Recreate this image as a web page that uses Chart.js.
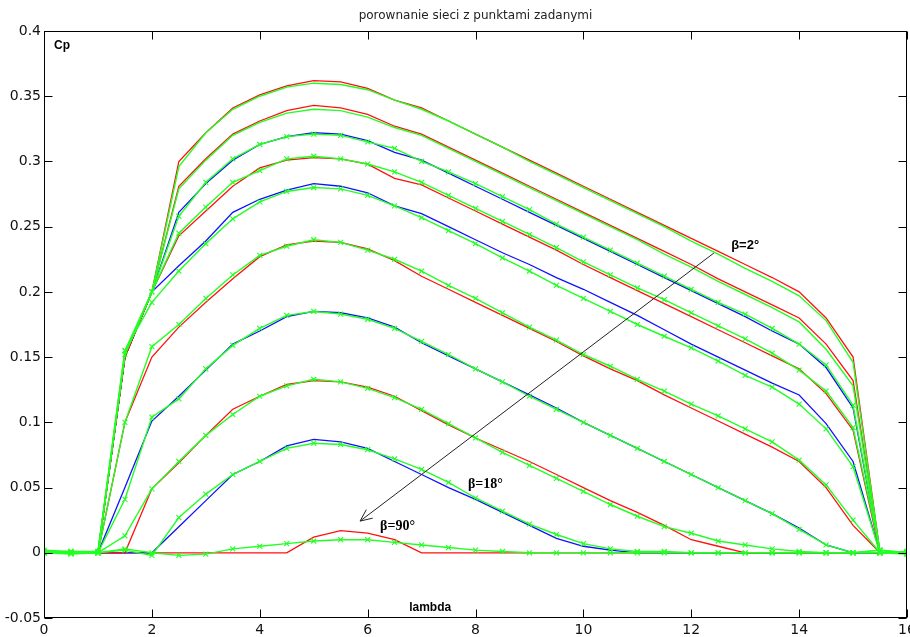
<!DOCTYPE html>
<html>
<head>
<meta charset="utf-8">
<script src="https://cdn.jsdelivr.net/npm/chart.js@4.4.1/dist/chart.umd.min.js"></script>
<style>
html,body{margin:0;padding:0;background:#fff;}
canvas{display:block;}
</style>
</head>
<body>
<canvas id="c" width="910" height="637"></canvas>
<script>
// ---- data ----
const lambdaValues = [0,0.5,1,1.5,2,2.5,3,3.5,4,4.5,5,5.5,6,6.5,7,7.5,8,8.5,9,9.5,10,10.5,11,11.5,12,12.5,13,13.5,14,14.5,15,15.5,16];
const xTickValues = [0,2,4,6,8,10,12,14,16];
const xTickLabels = ['0','2','4','6','8','10','12','14','16'];
const yTickValues = [-0.05,0,0.05,0.1,0.15,0.2,0.25,0.3,0.35,0.4];
const yTickLabels = ['-0.05','0','0.05','0.1','0.15','0.2','0.25','0.3','0.35','0.4'];
const titleText = 'porownanie sieci z punktami zadanymi';
const yAxisText = 'Cp';
const xAxisText = 'lambda';
const betaLabels = ['β=2°','β=18°','β=90°'];

// target curves (zadane)
const ref1 = [0,0,0,0.15,0.2,0.30,0.322,0.341,0.351,0.358,0.362,0.361,0.356,0.347,0.341,0.331,0.321,0.311,0.301,0.291,0.281,0.271,0.261,0.251,0.241,0.231,0.221,0.211,0.200,0.180,0.150,0,0];
const ref2 = [0,0,0,0.15,0.2,0.281,0.302,0.321,0.331,0.339,0.343,0.341,0.336,0.327,0.321,0.311,0.301,0.291,0.281,0.271,0.261,0.251,0.241,0.231,0.221,0.210,0.200,0.190,0.180,0.160,0.132,0,0];
const ref3 = [0,0,0,0.15,0.2,0.261,0.283,0.301,0.313,0.319,0.322,0.321,0.316,0.307,0.301,0.291,0.281,0.271,0.261,0.251,0.241,0.231,0.221,0.211,0.201,0.191,0.181,0.170,0.160,0.142,0.111,0,0];
const ref4 = [0,0,0,0.15,0.2,0.243,0.262,0.281,0.295,0.301,0.303,0.302,0.298,0.287,0.282,0.272,0.262,0.252,0.242,0.232,0.221,0.211,0.201,0.191,0.181,0.171,0.161,0.151,0.141,0.122,0.094,0,0];
const ref5 = [0,0,0,0.15,0.2,0.220,0.239,0.261,0.271,0.278,0.283,0.281,0.276,0.266,0.260,0.250,0.240,0.230,0.221,0.211,0.202,0.192,0.182,0.171,0.160,0.150,0.140,0.130,0.121,0.099,0.070,0,0];
const ref6 = [0,0,0,0.100,0.150,0.173,0.192,0.210,0.227,0.236,0.239,0.238,0.233,0.224,0.212,0.202,0.192,0.182,0.172,0.162,0.151,0.141,0.132,0.121,0.111,0.101,0.091,0.081,0.070,0.050,0.021,0,0];
const ref7 = [0,0,0,0.050,0.101,0.120,0.140,0.160,0.170,0.181,0.185,0.184,0.180,0.173,0.161,0.151,0.141,0.131,0.121,0.111,0.100,0.090,0.080,0.070,0.060,0.050,0.040,0.030,0.019,0.006,0,0,0];
const ref8 = [0,0,0,0,0.049,0.069,0.090,0.110,0.120,0.129,0.132,0.131,0.127,0.120,0.109,0.098,0.088,0.079,0.070,0.060,0.050,0.040,0.031,0.021,0.010,0.005,0,0,0,0,0,0,0];
const ref9 = [0,0,0,0,0,0.020,0.040,0.060,0.070,0.082,0.087,0.085,0.080,0.070,0.060,0.050,0.041,0.031,0.021,0.011,0.005,0.002,0,0,0,0,0,0,0,0,0,0,0];
const ref10 = [0,0,0,0,0,0,0,0,0,0,0.012,0.017,0.015,0.010,0,0,0,0,0,0,0,0,0,0,0,0,0,0,0,0,0,0,0];

// network outputs (siec)
const net1 = [0,0,0,0.152,0.2,0.296,0.322,0.340,0.350,0.357,0.360,0.359,0.355,0.347,0.340,0.331,0.321,0.311,0.300,0.290,0.280,0.270,0.260,0.250,0.239,0.229,0.218,0.208,0.197,0.178,0.146,0,0];
const net2 = [0,0,0,0.152,0.2,0.279,0.301,0.320,0.330,0.337,0.340,0.339,0.334,0.326,0.320,0.310,0.300,0.290,0.280,0.270,0.260,0.250,0.240,0.229,0.219,0.208,0.198,0.188,0.177,0.156,0.128,0,0];
const net3 = [0.002,0.001,0.001,0.152,0.2,0.258,0.284,0.302,0.313,0.319,0.321,0.320,0.315,0.310,0.300,0.292,0.283,0.273,0.263,0.252,0.242,0.232,0.222,0.212,0.202,0.192,0.183,0.172,0.160,0.144,0.113,0,0.001];
const net4 = [0,-0.001,0,0.155,0.2,0.245,0.265,0.284,0.293,0.302,0.304,0.302,0.298,0.292,0.284,0.274,0.264,0.254,0.244,0.234,0.223,0.213,0.203,0.194,0.184,0.174,0.164,0.153,0.140,0.124,0.096,0.002,0];
const net5 = [0.001,0,0.001,0.155,0.192,0.216,0.237,0.256,0.269,0.277,0.280,0.279,0.274,0.266,0.257,0.247,0.237,0.226,0.216,0.205,0.195,0.185,0.175,0.166,0.157,0.147,0.136,0.127,0.114,0.095,0.066,0,-0.001];
const net6 = [0,0.001,0,0.100,0.158,0.175,0.195,0.213,0.228,0.235,0.240,0.238,0.232,0.225,0.216,0.205,0.195,0.184,0.173,0.163,0.152,0.143,0.133,0.124,0.114,0.105,0.095,0.085,0.071,0.052,0.025,0,0.001];
const net7 = [0,0,0,0.041,0.104,0.118,0.141,0.159,0.172,0.182,0.185,0.183,0.179,0.172,0.162,0.152,0.141,0.131,0.120,0.110,0.100,0.090,0.080,0.070,0.060,0.050,0.040,0.030,0.018,0.006,0,0.002,0];
const net8 = [0,0,0,0.013,0.049,0.070,0.090,0.106,0.120,0.128,0.133,0.131,0.126,0.119,0.110,0.099,0.088,0.077,0.067,0.057,0.047,0.037,0.028,0.020,0.015,0.009,0.006,0.003,0.001,0,0,0,0];
const net9 = [0,0,0,0.002,-0.002,0.027,0.045,0.060,0.070,0.080,0.084,0.083,0.079,0.072,0.064,0.054,0.042,0.032,0.022,0.014,0.007,0.003,0.001,0.001,0,0,0,0,0,0,0,0,0];
const net10 = [0.001,0,0,0.003,0,-0.002,-0.001,0.003,0.005,0.007,0.009,0.010,0.010,0.008,0.006,0.004,0.002,0.001,0,0,0,0,0,0,0,0,0,0,0,0,0,0.002,-0.001];

// annotation anchors in data units
const betaAnchors = [[12.74,0.2327],[7.86,0.0496],[6.23,0.0178]];
const arrowFrom = [12.42,0.2298];
const arrowTo = [5.86,0.0243];

// ---- styles ----
const RED = '#ff1010', BLUE = '#1010ff', GREEN = '#22ff22';
const refSeries = [ref1,ref2,ref3,ref4,ref5,ref6,ref7,ref8,ref9,ref10];
const refColors = [RED,RED,BLUE,RED,BLUE,RED,BLUE,RED,BLUE,RED];
const netSeries = [net1,net2,net3,net4,net5,net6,net7,net8,net9,net10];
const netMarkers = [false,false,true,true,true,true,true,true,true,true];

function toPoints(arr){ return arr.map((v,i)=>({x:lambdaValues[i], y:v})); }

const datasets = [];
netSeries.forEach((s,i)=>{
  datasets.push({
    label:'siec '+(i+1), data: toPoints(s),
    borderColor: GREEN, backgroundColor: GREEN, borderWidth: 1.4,
    pointStyle:'crossRot', pointRadius: netMarkers[i]?3.5:0, pointBorderWidth:1.1,
    pointBorderColor: GREEN, tension:0, fill:false
  });
});
refSeries.forEach((s,i)=>{
  datasets.push({
    label:'zadane '+(i+1), data: toPoints(s),
    borderColor: refColors[i], backgroundColor: refColors[i], borderWidth: 1.3,
    pointRadius:0, tension:0, fill:false
  });
});

const TICK_FONT = {family:'"DejaVu Sans", sans-serif', size:14};

const framePlugin = {
  id:'frame',
  afterDraw(chart){
    const ctx = chart.ctx, a = chart.chartArea;
    const xs = chart.scales.x, ys = chart.scales.y;
    ctx.save();
    ctx.strokeStyle = '#000'; ctx.lineWidth = 1;
    const L = Math.round(a.left)+0.5, R = Math.round(a.right)-0.5, T = Math.round(a.top)+0.5, B = Math.round(a.bottom)-0.5;
    ctx.strokeRect(L, T, R-L, B-T);
    const tl = 8;
    ctx.beginPath();
    xTickValues.forEach(v=>{
      const px = Math.round(xs.getPixelForValue(v))+0.5;
      ctx.moveTo(px,B); ctx.lineTo(px,B-tl);
      ctx.moveTo(px,T); ctx.lineTo(px,T+tl);
    });
    yTickValues.forEach(v=>{
      const py = Math.round(ys.getPixelForValue(v))+0.5;
      ctx.moveTo(L,py); ctx.lineTo(L+tl,py);
      ctx.moveTo(R,py); ctx.lineTo(R-tl,py);
    });
    ctx.stroke();

    // arrow
    const x1 = xs.getPixelForValue(arrowFrom[0]), y1 = ys.getPixelForValue(arrowFrom[1]);
    const x2 = xs.getPixelForValue(arrowTo[0]), y2 = ys.getPixelForValue(arrowTo[1]);
    ctx.strokeStyle = '#222'; ctx.lineWidth = 1;
    ctx.beginPath(); ctx.moveTo(x1,y1); ctx.lineTo(x2,y2); ctx.stroke();
    const ang = Math.atan2(y1-y2, x1-x2), hl = 13, ha = 0.42;
    ctx.beginPath();
    ctx.moveTo(x2+hl*Math.cos(ang+ha), y2+hl*Math.sin(ang+ha)); ctx.lineTo(x2,y2);
    ctx.lineTo(x2+hl*Math.cos(ang-ha), y2+hl*Math.sin(ang-ha));
    ctx.stroke();

    // texts
    ctx.fillStyle = '#000';
    ctx.textBaseline = 'alphabetic'; ctx.textAlign = 'left';
    const fonts = ['bold 13px "Liberation Sans", Arial, sans-serif','bold 14px "Liberation Serif", serif','bold 14px "Liberation Serif", serif'];
    betaLabels.forEach((t,i)=>{
      ctx.font = fonts[i];
      ctx.fillText(t, xs.getPixelForValue(betaAnchors[i][0]), ys.getPixelForValue(betaAnchors[i][1]));
    });
    ctx.font = 'bold 12px "Liberation Sans", Arial, sans-serif';
    ctx.fillText(yAxisText, xs.getPixelForValue(0.185), ys.getPixelForValue(0.3862));
    ctx.fillText(xAxisText, xs.getPixelForValue(6.77), ys.getPixelForValue(-0.0447));
    ctx.restore();
  }
};

new Chart(document.getElementById('c'), {
  type:'line',
  data:{ datasets },
  options:{
    responsive:false, animation:false, devicePixelRatio:1,
    layout:{ autoPadding:false, padding:{left:0,right:3,top:0,bottom:0} },
    plugins:{
      legend:{display:false}, tooltip:{enabled:false},
      title:{ display:true, text:titleText, fullSize:false, color:'#222',
        font:{family:'"DejaVu Sans", sans-serif', size:12, weight:'normal'}, padding:{top:8.5,bottom:8.1} }
    },
    scales:{
      x:{ type:'linear', min:0, max:16, offset:false,
        grid:{display:false, drawTicks:false, offset:false}, border:{display:false},
        afterBuildTicks(s){ s.ticks = xTickValues.map(v=>({value:v})); },
        afterFit(s){ s.height = 19; s.paddingLeft = 0; s.paddingRight = 0; s.paddingTop = 0; s.paddingBottom = 0; },
        ticks:{ padding:4, color:'#111', font:TICK_FONT, maxRotation:0, autoSkip:false,
          callback:(v)=>{ const i = xTickValues.findIndex(t=>Math.abs(t-v)<1e-9); return i>=0?xTickLabels[i]:''; } }
      },
      y:{ type:'linear', min:-0.05, max:0.4,
        grid:{display:false, drawTicks:false}, border:{display:false},
        afterBuildTicks(s){ s.ticks = yTickValues.map(v=>({value:v})); },
        afterFit(s){ s.width = 44; s.paddingLeft = 0; s.paddingRight = 0; s.paddingTop = 0; s.paddingBottom = 0; },
        ticks:{ padding:3, color:'#111', font:TICK_FONT, autoSkip:false,
          callback:(v)=>{ const i = yTickValues.findIndex(t=>Math.abs(t-v)<1e-9); return i>=0?yTickLabels[i]:''; } }
      }
    }
  },
  plugins:[framePlugin]
});
</script>
</body>
</html>
